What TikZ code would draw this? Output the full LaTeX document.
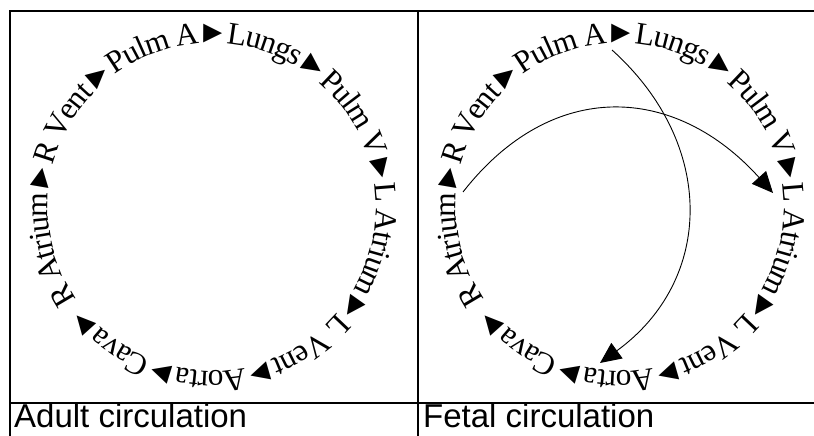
\documentclass[tikz,border=0pt]{standalone}
\usepackage{fontspec}
\setmainfont{Liberation Serif}
\newfontfamily\labelfont{Liberation Sans}
\usetikzlibrary{decorations.text,arrows.meta}
\begin{document}
\begin{tikzpicture}[x=1pt,y=1pt,
  frame/.style={line width=2.4pt, line join=miter},
  ringtext/.style={decorate, decoration={text along path, text align={fit to path}, raise=-15pt,
     text={|\fontsize{31.5}{31.5}\selectfont|#1}}},
  flow/.style={line width=0.9pt, -{Triangle[length=21pt,width=19pt]}},
  caption/.style={anchor=base west, inner sep=0pt, font=\labelfont\fontsize{33}{33}\selectfont}]
\useasboundingbox (0,0) rectangle (814,436);
% frame
\draw[frame] (10,0) -- (10,425) -- (814,425);
\draw[frame] (418,0) -- (418,425);
\draw[frame] (10,33) -- (814,33);
% centres
\coordinate (adultc) at (212,229);
\coordinate (fetalc) at (620,229);
% ring texts
\path[ringtext={R Atrium►R Vent►Pulm A►Lungs►Pulm V►L Atrium►L Vent►Aorta►Cava►}]
  (adultc) ++(214:179) arc[start angle=214, end angle=-143, radius=179];
\path[ringtext={R Atrium►R Vent►Pulm A►Lungs►Pulm V►L Atrium►L Vent►Aorta►Cava►}]
  (fetalc) ++(214:179) arc[start angle=214, end angle=-143, radius=179];
% fetal shunts
\coordinate (raout) at (463,244);
\coordinate (latip) at (773,243);
\coordinate (paout) at (612,386);
\coordinate (aotip) at (600,73);
\draw[flow] (raout) to[out=52,in=132,looseness=1.2] (latip);
\draw[flow] (paout) to[out=-42,in=36,looseness=1.15] (aotip);
% captions
\node[caption] (adult) at (14,8) {Adult circulation};
\node[caption] (fetal) at (423,8) {Fetal circulation};
\end{tikzpicture}
\end{document}
